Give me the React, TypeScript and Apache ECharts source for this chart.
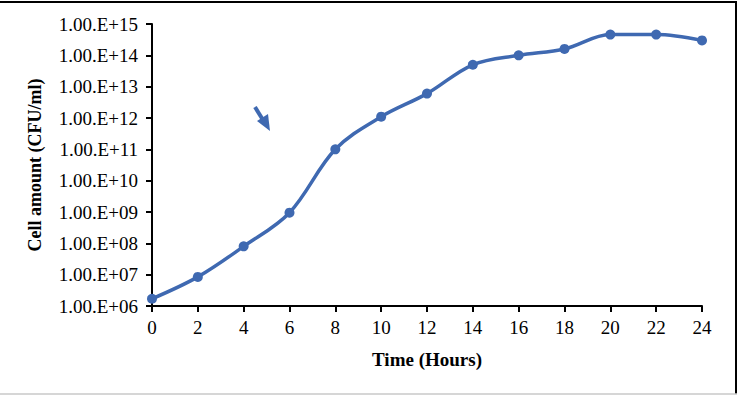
import React, { useEffect, useRef } from "react";
import * as echarts from "echarts";

const hours = [0, 2, 4, 6, 8, 10, 12, 14, 16, 18, 20, 22, 24];
const cellAmount = [1.7e6, 8.5e6, 8e7, 9.5e8, 1e11, 1.1e12, 6e12, 5e13, 1e14, 1.6e14, 4.6e14, 4.6e14, 3e14];
const yMin = 1e6;
const yMax = 1e15;

const FONT = "Liberation Serif";
const BLUE = "#3F69B1";

export default function App() {
  const ref = useRef<HTMLDivElement>(null);
  useEffect(() => {
    if (!ref.current) return;
    const chart = echarts.init(ref.current, undefined, { renderer: "svg" });
    chart.setOption({
      animation: false,
      backgroundColor: "#fff",
      textStyle: { fontFamily: FONT },
      grid: { left: 152, right: 39, top: 24, bottom: 92 },
      xAxis: {
        type: "value",
        min: 0,
        max: 24,
        interval: 2,
        name: "Time (Hours)",
        nameLocation: "middle",
        nameGap: 44,
        nameTextStyle: { fontFamily: FONT, fontSize: 19, fontWeight: "bold", color: "#000" },
        axisLine: { lineStyle: { color: "#000", width: 2 } },
        axisTick: { show: true, length: 6, lineStyle: { color: "#000", width: 2 } },
        axisLabel: { fontFamily: FONT, fontSize: 19, color: "#000", margin: 12 },
        splitLine: { show: false },
      },
      yAxis: {
        type: "log",
        logBase: 10,
        min: yMin,
        max: yMax,
        name: "Cell amount (CFU/ml)",
        nameLocation: "middle",
        nameGap: 108,
        nameTextStyle: { fontFamily: FONT, fontSize: 18, fontWeight: "bold", color: "#000" },
        axisLine: { show: true, lineStyle: { color: "#000", width: 2 } },
        axisTick: { show: true, length: 6, lineStyle: { color: "#000", width: 2 } },
        axisLabel: {
          fontFamily: FONT,
          fontSize: 19,
          color: "#000",
          margin: 14,
          formatter: (v: number) => {
            const e = Math.round(Math.log10(v));
            return "1.00.E+" + String(e).padStart(2, "0");
          },
        },
        splitLine: { show: false },
      },
      series: [
        {
          type: "line",
          data: hours.map((h, i) => [h, cellAmount[i]]),
          smooth: 0.35,
          symbol: "circle",
          symbolSize: 10,
          itemStyle: { color: BLUE },
          lineStyle: { color: BLUE, width: 3.5 },
        },
      ],
      graphic: [
        { type: "line", shape: { x1: 0, y1: 2, x2: 737, y2: 2 }, style: { stroke: "#000", lineWidth: 2 } },
        { type: "line", shape: { x1: 736, y1: 1, x2: 736, y2: 394 }, style: { stroke: "#000", lineWidth: 2 } },
        { type: "line", shape: { x1: 0, y1: 394, x2: 737, y2: 394 }, style: { stroke: "#c8c8c8", lineWidth: 1.5 } },
        { type: "line", shape: { x1: 255, y1: 107, x2: 263, y2: 120 }, style: { stroke: BLUE, lineWidth: 4 } },
        {
          type: "polygon",
          shape: { points: [[257, 121], [268, 114], [270, 131]] },
          style: { fill: BLUE },
        },
      ],
    });
    return () => chart.dispose();
  }, []);
  return <div ref={ref} style={{ width: 741, height: 398, position: "absolute", left: 0, top: 0 }} />;
}
